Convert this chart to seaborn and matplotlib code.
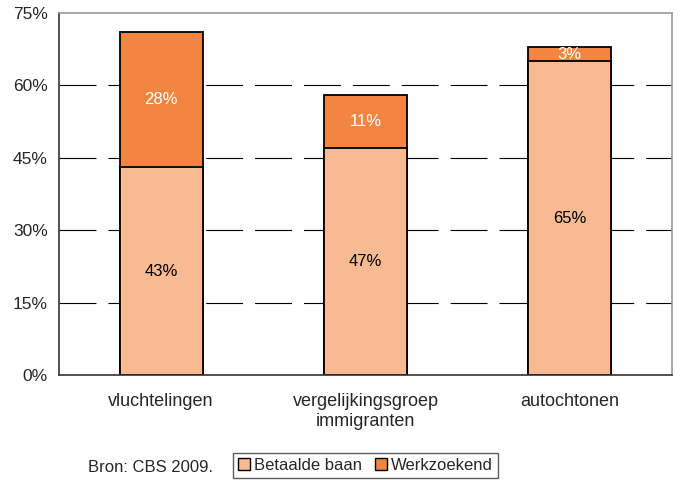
import numpy as np
import pandas as pd
import matplotlib
matplotlib.use('Agg')
import matplotlib.pyplot as plt
import seaborn as sns
from matplotlib.patches import Patch

groups = ['vluchtelingen', 'vergelijkingsgroep\nimmigranten', 'autochtonen']
betaald = [43, 47, 65]
werkzoekend = [28, 11, 3]
yticks = [0, 15, 30, 45, 60, 75]

light = '#F7BA92'
dark = '#F28541'

sns.set_style('white')
plt.rcParams['font.family'] = ['Liberation Sans', 'DejaVu Sans']
plt.rcParams['lines.scale_dashes'] = False

df = pd.DataFrame({'groep': groups, 'betaald': betaald, 'werkzoekend': werkzoekend})
df['totaal'] = df.betaald + df.werkzoekend

fig = plt.figure(figsize=(6.8, 4.8), dpi=100)
ax = fig.add_axes([59/680, 105/480, 613/680, 362/480])

for y in yticks[1:-1]:
    ax.axhline(y, color='black', lw=0.8, dashes=(26.6, 8.6), zorder=0)

sns.barplot(data=df, x='groep', y='totaal', color=dark, width=0.405,
            edgecolor='black', linewidth=1.3, saturation=1, ax=ax, zorder=2)
sns.barplot(data=df, x='groep', y='betaald', color=light, width=0.405,
            edgecolor='black', linewidth=1.3, saturation=1, ax=ax, zorder=3)

for i, r in df.iterrows():
    ax.text(i, r.betaald/2, '%d%%' % r.betaald, ha='center', va='center',
            fontsize=12, color='black', zorder=5)
    ax.text(i, r.betaald + r.werkzoekend/2, '%d%%' % r.werkzoekend, ha='center',
            va='center', fontsize=12, color='white', zorder=5)

ax.set_xlim(-0.5, 2.5)
ax.set_ylim(0, 75)
ax.set_yticks(yticks)
ax.set_yticklabels(['%d%%' % y for y in yticks], fontsize=12.5)
ax.set_xticks(range(3))
ax.set_xticklabels(groups, fontsize=13)
ax.set_xticks([-0.5, 0.5, 1.5, 2.5], minor=True)
ax.tick_params(axis='x', which='major', length=0, pad=13)
ax.tick_params(axis='x', which='minor', length=5, width=1, color='#333333', direction='out')
ax.tick_params(axis='y', length=5, width=1, color='#333333', direction='out', pad=3)
ax.set_xlabel('')
ax.set_ylabel('')

for s in ['left', 'bottom']:
    ax.spines[s].set_color('#333333')
    ax.spines[s].set_linewidth(1.2)
for s in ['top', 'right']:
    ax.spines[s].set_color('#999999')
    ax.spines[s].set_linewidth(1.2)
ax.spines['bottom'].set_zorder(6)

fig.text(88/680, 1 - 467/480, 'Bron: CBS 2009.', fontsize=12, va='center', ha='left')

handles = [Patch(facecolor=light, edgecolor='black', lw=1, label='Betaalde baan'),
           Patch(facecolor=dark, edgecolor='black', lw=1, label='Werkzoekend')]
leg = fig.legend(handles=handles, loc='upper left', bbox_to_anchor=(233/680, 1 - 453/480),
                 ncol=2, fontsize=12, frameon=True, fancybox=False, handlelength=0.7,
                 handleheight=0.7, handletextpad=0.25, columnspacing=0.8,
                 borderpad=0.3, borderaxespad=0)
leg.get_frame().set_edgecolor('#333333')
leg.get_frame().set_linewidth(1)

fig.savefig('out.png', dpi=100)
